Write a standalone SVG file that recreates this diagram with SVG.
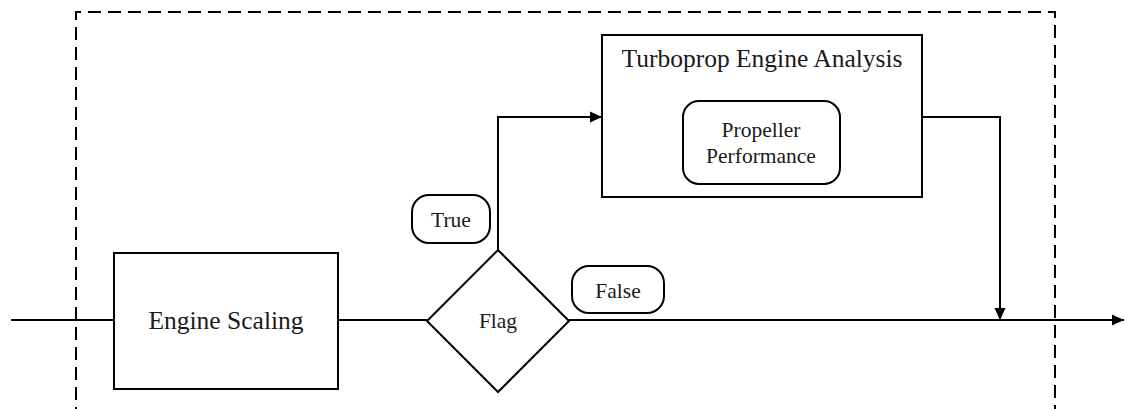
<svg xmlns="http://www.w3.org/2000/svg" width="1125" height="409" viewBox="0 0 1125 409">
<style>
.box{fill:#fff;stroke:#000;stroke-width:2}
.ln{fill:none;stroke:#000;stroke-width:2}
.t{font-family:"Liberation Serif","Times New Roman","DejaVu Serif",serif;fill:#1a1a1a;text-anchor:middle}
.big{font-size:25.5px}
.sm{font-size:21.5px}
</style>
<defs>
<marker id="ah" markerWidth="12" markerHeight="12" refX="12" refY="6" orient="auto" markerUnits="userSpaceOnUse">
<path d="M0,0.5 L12,6 L0,11.5 Z" fill="#000"/>
</marker>
</defs>
<rect width="1125" height="409" fill="#fff"/>
<g id="boundary">
<path d="M76,420 L76,12 L1055,12 L1055,420" fill="none" stroke="#000" stroke-width="2" stroke-dasharray="13,7"/>
</g>
<g id="connectors">
<line class="ln" x1="11" y1="320" x2="114" y2="320"/>
<line class="ln" x1="338" y1="320" x2="427" y2="320"/>
<line class="ln" x1="569" y1="320" x2="1124" y2="320" marker-end="url(#ah)"/>
<polyline class="ln" points="498,250 498,117 602,117" marker-end="url(#ah)"/>
<polyline class="ln" points="922,117 1000,117 1000,320" marker-end="url(#ah)"/>
</g>
<g id="engine-scaling">
<rect class="box" x="114" y="253" width="224" height="136"/>
<text class="t big" x="226" y="329">Engine Scaling</text>
</g>
<g id="flag">
<polygon class="box" points="498,250 569,321 498,392 427,321"/>
<text class="t sm" x="498" y="328">Flag</text>
</g>
<g id="turboprop">
<rect class="box" x="602" y="35" width="320" height="162"/>
<text class="t big" x="762" y="67">Turboprop Engine Analysis</text>
</g>
<g id="propeller">
<rect class="box" x="683" y="101" width="157" height="83" rx="16" ry="16"/>
<text class="t sm" x="761" y="137">Propeller</text>
<text class="t sm" x="761" y="163">Performance</text>
</g>
<g id="true-label">
<rect class="box" x="412" y="195" width="78" height="48" rx="17" ry="17"/>
<text class="t sm" x="451" y="227">True</text>
</g>
<g id="false-label">
<rect class="box" x="572" y="266" width="92" height="47" rx="17" ry="17"/>
<text class="t sm" x="618" y="298">False</text>
</g>
</svg>
